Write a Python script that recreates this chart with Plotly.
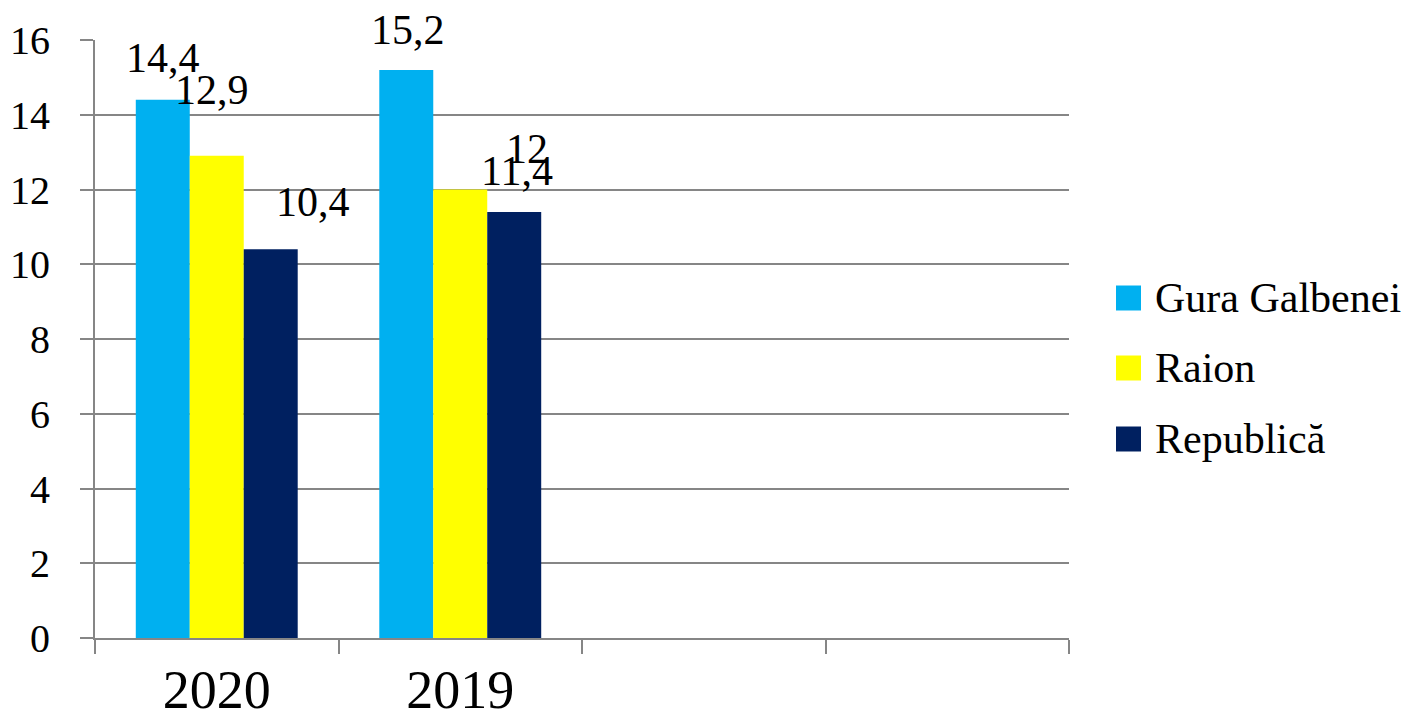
import plotly.graph_objects as go

# ---- data ----
categories = ["2020", "2019"]
empty_slots = ["c3", "c4"]
series_names = ["Gura Galbenei", "Raion", "Republică"]
gura_galbenei = [14.4, 15.2]
raion = [12.9, 12.0]
republica = [10.4, 11.4]
label_texts = [["14,4", "15,2"], ["12,9", "12"], ["10,4", "11,4"]]
y_ticks = [0, 2, 4, 6, 8, 10, 12, 14, 16]

# ---- style ----
colors = ["#00B0F0", "#FFFF00", "#002060"]
FONT = "Liberation Serif, DejaVu Serif, serif"
GRID = "#868686"
bar_px = 54
# label offsets (px) relative to each bar centre / bar top: (dx, dy)
label_offsets = [[(0, 42), (2, 40)], [(-5, 66), (67, 41)], [(42, 47), (3, 41)]]

values = [gura_galbenei, raion, republica]
fig = go.Figure()
for name, vals, col in zip(series_names, values, colors):
    fig.add_trace(go.Bar(x=categories, y=vals, name=name, marker_color=col,
                         marker_line_width=0, showlegend=False))

annotations = []
for si, vals in enumerate(values):
    for ci, v in enumerate(vals):
        dx, dy = label_offsets[si][ci]
        annotations.append(dict(
            x=ci, y=v, xref="x", yref="y", text=label_texts[si][ci],
            showarrow=False, xanchor="center", yanchor="middle",
            xshift=(si - 1) * bar_px + dx, yshift=dy,
            font=dict(family=FONT, size=42, color="#000000")))

# legend drawn manually (pixel layout of plot area: x 95..1069, y 40..638)
shapes = []
leg_y = [298, 368, 439]
for name, col, yc in zip(series_names, colors, leg_y):
    y0 = 1 - (yc + 12.5 - 40) / (638 - 40)
    y1 = 1 - (yc - 12.5 - 40) / (638 - 40)
    shapes.append(dict(type="rect", xref="paper", yref="paper",
                       x0=(1116 - 95) / (1069 - 95), x1=(1141 - 95) / (1069 - 95),
                       y0=y0, y1=y1, fillcolor=col, line_width=0))
    annotations.append(dict(x=(1153 - 95) / (1069 - 95), y=1 - (yc - 40) / (638 - 40),
                            xref="paper", yref="paper", text=name, showarrow=False,
                            xanchor="left", yanchor="middle",
                            font=dict(family=FONT, size=42, color="#000000")))

fig.update_layout(
    width=1409, height=713,
    margin=dict(l=87, r=348, t=32, b=83, autoexpand=False),
    paper_bgcolor="white", plot_bgcolor="white",
    barmode="group", bargap=0.335, bargroupgap=0,
    showlegend=False,
    annotations=annotations, shapes=shapes,
    font=dict(family=FONT, color="#000000"),
)
fig.update_xaxes(
    type="category", categoryorder="array",
    categoryarray=categories + empty_slots,
    tickvals=categories + empty_slots, ticktext=categories + ["", ""],
    range=[-0.5, 3.5], tickson="boundaries", automargin=False,
    ticks="outside", ticklen=14, tickwidth=2, tickcolor=GRID,
    showline=True, linecolor=GRID, linewidth=2, showgrid=False,
    tickfont=dict(family=FONT, size=54, color="#000000"),
    ticklabelstandoff=3,
)
fig.update_yaxes(
    range=[0, 16], tickvals=y_ticks, ticktext=[str(t) for t in y_ticks],
    ticks="outside", ticklen=13, tickwidth=2, tickcolor=GRID, automargin=False,
    showgrid=True, gridcolor=GRID, gridwidth=2,
    showline=True, linecolor=GRID, linewidth=2, zeroline=False,
    tickfont=dict(family=FONT, size=40, color="#000000"),
    ticklabelstandoff=22,
)

fig.write_html("out.html")
